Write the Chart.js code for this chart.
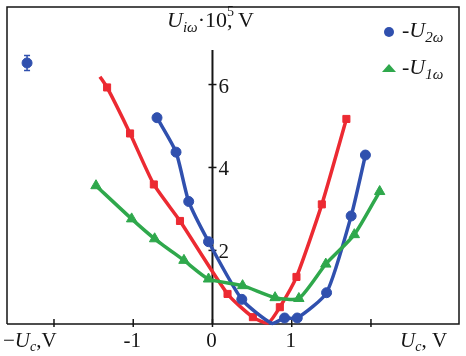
<!DOCTYPE html>
<html>
<head>
<meta charset="utf-8">
<title>U_iw vs U_c</title>
<script src="https://cdn.jsdelivr.net/npm/chart.js@4.4.0/dist/chart.umd.min.js"></script>
<style>
  body { margin: 0; background: #fff; }
  #chart { display: block; }
</style>
</head>
<body>
<canvas id="chart" width="466" height="356"></canvas>
<script>
// values: U_c in V, -U_iw in 1e-5 V
const redX  = [-1.42, -1.33, -1.04, -0.74, -0.41, 0.19, 0.51, 0.70, 0.85, 1.06, 1.38, 1.69];
const redY  = [6.19, 5.93, 4.82, 3.59, 2.71, 0.95, 0.39, 0.25, 0.63, 1.36, 3.11, 5.17];
const redMark = [0, 1, 1, 1, 1, 1, 1, 0, 1, 1, 1, 1];

const blueX = [-0.70, -0.46, -0.30, -0.05, 0.37, 0.75, 0.91, 1.07, 1.44, 1.75, 1.93];
const blueY = [5.20, 4.37, 3.18, 2.21, 0.82, 0.24, 0.37, 0.37, 0.98, 2.83, 4.30];
const blueMark = [1, 1, 1, 1, 1, 0, 1, 1, 1, 1, 1];

const greenX = [-1.47, -1.02, -0.73, -0.36, -0.05, 0.38, 0.79, 1.09, 1.43, 1.79, 2.11];
const greenY = [3.56, 2.76, 2.28, 1.76, 1.31, 1.15, 0.86, 0.84, 1.67, 2.38, 3.42];

// the lone point with its error bar (upper left)
const errX = [-2.34];
const errY = [6.52];
const errD = [0.18];

const xTicks = [-2, -1, 0, 1, 2];
const xTickLabels = ['', '-1', '0', '1', ''];
const yTicks = [2, 4, 6];
const yTickLabels = ['2', '4', '6'];
const yAxisTop = 6.83;

const RED = '#ec2a32';
const BLUE = '#3050ae';
const GREEN = '#2fa84c';
const INK = '#151515';
const SERIF = '"Liberation Serif", "DejaVu Serif", serif';

function pts(xs, ys) {
  return xs.map((x, i) => ({x: x, y: ys[i]}));
}

function runs(ctx, x, y, list) {
  list.forEach(r => {
    ctx.font = (r.it ? 'italic ' : '') + r.s + 'px ' + SERIF;
    ctx.fillText(r.t, x, y + (r.dy || 0));
    if (!r.stay) x += ctx.measureText(r.t).width + (r.gap || 0);
  });
}

const axesPlugin = {
  id: 'axes',
  beforeDatasetsDraw(chart) {
    const {ctx, chartArea: a, scales: {x, y}} = chart;
    ctx.save();
    ctx.strokeStyle = INK;
    ctx.lineWidth = 1.5;
    // frame, bottom edge is the x axis
    ctx.beginPath();
    ctx.moveTo(a.left, a.bottom);
    ctx.lineTo(a.left, a.top);
    ctx.lineTo(a.right, a.top);
    ctx.lineTo(a.right, a.bottom);
    ctx.lineTo(a.left, a.bottom);
    ctx.stroke();
    // y axis at U_c = 0
    const x0 = x.getPixelForValue(0);
    ctx.lineWidth = 2;
    ctx.beginPath();
    ctx.moveTo(x0, y.getPixelForValue(yAxisTop));
    ctx.lineTo(x0, a.bottom);
    ctx.stroke();
    ctx.lineWidth = 1.5;
    yTicks.forEach(v => {
      const py = y.getPixelForValue(v);
      ctx.beginPath();
      ctx.moveTo(x0 - 4, py);
      ctx.lineTo(x0 + 4, py);
      ctx.stroke();
    });
    xTicks.forEach(v => {
      const px = x.getPixelForValue(v);
      ctx.beginPath();
      ctx.moveTo(px, a.bottom - 5);
      ctx.lineTo(px, a.bottom + 3);
      ctx.stroke();
    });
    // error bar
    ctx.strokeStyle = BLUE;
    errX.forEach((v, i) => {
      const px = x.getPixelForValue(v);
      const top = y.getPixelForValue(errY[i] + errD[i]);
      const bot = y.getPixelForValue(errY[i] - errD[i]);
      ctx.beginPath();
      ctx.moveTo(px, top); ctx.lineTo(px, bot);
      ctx.moveTo(px - 3, top); ctx.lineTo(px + 3, top);
      ctx.moveTo(px - 3, bot); ctx.lineTo(px + 3, bot);
      ctx.stroke();
    });
    ctx.restore();
  },
  afterDraw(chart) {
    const {ctx, chartArea: a, scales: {x, y}} = chart;
    ctx.save();
    ctx.fillStyle = INK;
    ctx.textBaseline = 'alphabetic';
    const x0 = x.getPixelForValue(0);
    // tick labels
    ctx.font = '21px ' + SERIF;
    ctx.textAlign = 'center';
    xTicks.forEach((v, i) => {
      if (xTickLabels[i]) ctx.fillText(xTickLabels[i], x.getPixelForValue(v) - 1, a.bottom + 23);
    });
    ctx.textAlign = 'left';
    yTicks.forEach((v, i) => {
      ctx.fillText(yTickLabels[i], x0 + 6, y.getPixelForValue(v) + 8);
    });
    // axis titles
    runs(ctx, 167, 27, [
      {t: 'U', s: 22, it: true},
      {t: 'iω', s: 15, it: true, dy: 5},
      {t: '·10', s: 22},
      {t: '5', s: 14, dy: -11, stay: true},
      {t: ', V', s: 22}
    ]);
    runs(ctx, 3, a.bottom + 23, [
      {t: '−', s: 21},
      {t: 'U', s: 21, it: true},
      {t: 'c', s: 14, it: true, dy: 4},
      {t: ',V', s: 21}
    ]);
    runs(ctx, 400, a.bottom + 23, [
      {t: 'U', s: 21, it: true},
      {t: 'c', s: 14, it: true, dy: 4},
      {t: ', V', s: 21}
    ]);
    // legend
    ctx.fillStyle = BLUE;
    ctx.beginPath();
    ctx.arc(389, 32, 5, 0, Math.PI * 2);
    ctx.fill();
    ctx.fillStyle = GREEN;
    ctx.beginPath();
    ctx.moveTo(382, 72);
    ctx.lineTo(396, 72);
    ctx.lineTo(389, 64);
    ctx.closePath();
    ctx.fill();
    ctx.fillStyle = INK;
    runs(ctx, 402, 37, [
      {t: '-', s: 22},
      {t: 'U', s: 22, it: true},
      {t: '2ω', s: 15, it: true, dy: 5}
    ]);
    runs(ctx, 402, 74, [
      {t: '-', s: 22},
      {t: 'U', s: 22, it: true},
      {t: '1ω', s: 15, it: true, dy: 5}
    ]);
    ctx.restore();
  }
};

function lineSet(label, data, color, style, radius, marks) {
  return {
    label: label,
    data: data,
    borderColor: color,
    backgroundColor: color,
    borderWidth: 3.5,
    pointStyle: style,
    pointRadius: marks.map(m => m ? radius : 0),
    pointBorderWidth: 1,
    tension: 0.2,
    showLine: true,
    clip: false
  };
}

new Chart(document.getElementById('chart'), {
  type: 'scatter',
  data: {
    datasets: [
      lineSet('-U1w', pts(greenX, greenY), GREEN, 'triangle', 6, greenX.map(() => 1)),
      lineSet('-U2w', pts(blueX, blueY), BLUE, 'circle', 5, blueMark),
      lineSet('red', pts(redX, redY), RED, 'rect', 5, redMark),
      {
        label: 'error point',
        data: pts(errX, errY),
        backgroundColor: BLUE,
        borderColor: BLUE,
        pointRadius: 5,
        showLine: false,
        clip: false
      }
    ]
  },
  options: {
    responsive: false,
    animation: false,
    devicePixelRatio: 1,
    layout: {padding: {left: 1, right: 3, top: 1, bottom: 32}},
    plugins: {legend: {display: false}, tooltip: {enabled: false}},
    scales: {
      x: {type: 'linear', min: -2.593, max: 3.111, display: false},
      y: {type: 'linear', min: 0.225, max: 7.87, display: false}
    }
  },
  plugins: [axesPlugin]
});
</script>
</body>
</html>
